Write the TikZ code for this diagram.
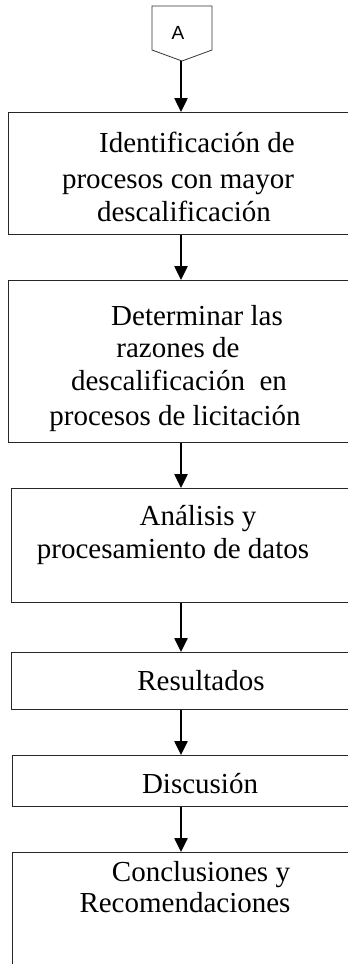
\documentclass[tikz,border=0pt]{standalone}
\usepackage{fontspec}
\setmainfont{Liberation Serif}
\newfontfamily\connfont{Liberation Sans}
\usetikzlibrary{arrows.meta}
\begin{document}
\begin{tikzpicture}[x=1pt,y=-1pt,
  box/.style={draw=black!85,line width=1pt,anchor=north west,inner sep=0pt,minimum width=400pt},
  ln/.style={anchor=base,inner sep=0pt,font=\fontsize{29}{33}\selectfont},
  arr/.style={line width=2.5pt,-{Triangle[width=13pt,length=14pt]}}]
\useasboundingbox (0,0) rectangle (348,964);
\clip (0,0) rectangle (348,964);
% off-page connector
\draw[line width=0.8pt,draw=black!80] (152,6) -- (212,6) -- (212,50) -- (182,61) -- (152,50) -- cycle;
\node[font=\connfont\fontsize{19}{19}\selectfont,inner sep=0pt] (A) at (178,33) {A};
\coordinate (Apt) at (181,61);
% boxes
\node[box,minimum height=122pt] (b1) at (8,112) {};
\node[box,minimum height=162pt] (b2) at (8,280) {};
\node[box,minimum height=114pt] (b3) at (11,488) {};
\node[box,minimum height=57pt] (b4) at (11,652) {};
\node[box,minimum height=51pt] (b5) at (12,755) {};
\node[box,minimum height=140pt] (b6) at (12,852) {};
% texts
\node[ln] (t1a) at (197,152) {Identificación de};
\node[ln] (t1b) at (178,188) {procesos con mayor};
\node[ln] (t1c) at (184,221) {descalificación};
\node[ln] (t2a) at (197,325) {Determinar las};
\node[ln] (t2b) at (178,357) {razones de};
\node[ln] (t2c) at (179,390) {descalificación\ \ en};
\node[ln] (t2d) at (175,425) {procesos de licitación};
\node[ln] (t3a) at (198,525) {Análisis y};
\node[ln] (t3b) at (173,558) {procesamiento de datos};
\node[ln] (t4) at (201,690) {Resultados};
\node[ln] (t5) at (200,793) {Discusión};
\node[ln] (t6a) at (201,881) {Conclusiones y};
\node[ln] (t6b) at (185,912) {Recomendaciones};
% arrows
\draw[arr] (Apt) -- (b1.north -| Apt);
\draw[arr] (b1.south -| Apt) -- (b2.north -| Apt);
\draw[arr] (b2.south -| Apt) -- (b3.north -| Apt);
\draw[arr] (b3.south -| Apt) -- (b4.north -| Apt);
\draw[arr] (b4.south -| Apt) -- (b5.north -| Apt);
\draw[arr] (b5.south -| Apt) -- (b6.north -| Apt);
\end{tikzpicture}
\end{document}
